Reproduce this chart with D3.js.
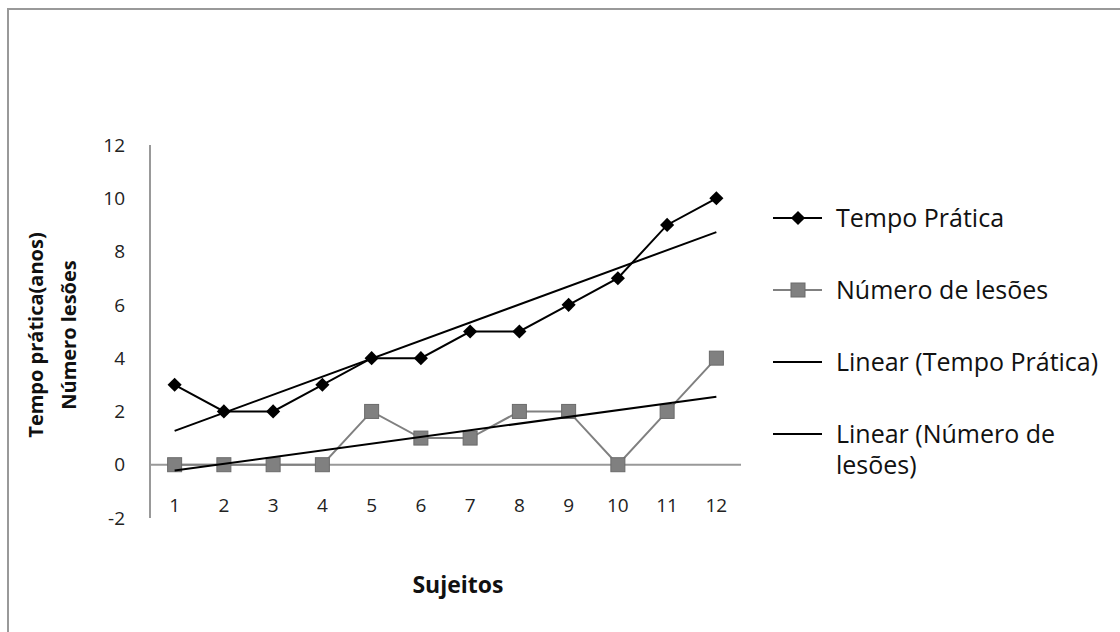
<!DOCTYPE html>
<html><head><meta charset="utf-8">
<script src="https://cdn.jsdelivr.net/npm/d3@7"></script>
<style>body{margin:0;background:#fff}svg{display:block}text{font-family:"Open Sans",Lato,sans-serif}</style>
</head><body>
<script>
const subjects = [1,2,3,4,5,6,7,8,9,10,11,12];
const tempoPratica = [3,2,2,3,4,4,5,5,6,7,9,10];
const numeroLesoes = [0,0,0,0,2,1,1,2,2,0,2,4];
const yTicks = [-2,0,2,4,6,8,10,12];
const legendLabels = ["Tempo Prática","Número de lesões","Linear (Tempo Prática)",["Linear (Número de","lesões)"]];

const W=1120,H=632;
const svg=d3.select("body").append("svg").attr("width",W).attr("height",H);
svg.append("rect").attr("x",8).attr("y",9).attr("width",W+10).attr("height",H+10)
  .attr("fill","#fff").attr("stroke","#999").attr("stroke-width",2);

const x=d3.scaleBand().domain(subjects).range([150,741]);
const xc=d=>x(d)+x.bandwidth()/2;
const y=d3.scaleLinear().domain([-2,12]).range([518,145]);

svg.append("line").attr("x1",150).attr("x2",150).attr("y1",y(12)).attr("y2",y(-2)).attr("stroke","#999").attr("stroke-width",2);
svg.append("line").attr("x1",150).attr("x2",741).attr("y1",y(0)).attr("y2",y(0)).attr("stroke","#999").attr("stroke-width",2);

svg.selectAll(".yt").data(yTicks).enter().append("text")
  .attr("x",125).attr("y",d=>y(d)).attr("dy","0.35em").attr("text-anchor","end")
  .attr("font-size",19).attr("fill","#222").text(d=>d);
svg.selectAll(".xt").data(subjects).enter().append("text")
  .attr("x",d=>xc(d)).attr("y",505).attr("dy","0.35em").attr("text-anchor","middle")
  .attr("font-size",19).attr("fill","#222").text(d=>d);

function fit(ys){
  const xs=subjects;
  const mx=d3.mean(xs), my=d3.mean(ys);
  const b=d3.sum(xs,(v,i)=>(v-mx)*(ys[i]-my))/d3.sum(xs,v=>(v-mx)**2);
  return v=>my+b*(v-mx);
}
const line=d3.line().x(d=>xc(d[0])).y(d=>y(d[1]));
const f1=fit(tempoPratica), f2=fit(numeroLesoes);

svg.append("path").datum(subjects.map((s,i)=>[s,numeroLesoes[i]])).attr("d",line)
  .attr("fill","none").attr("stroke","#808080").attr("stroke-width",2);
svg.selectAll(".sq").data(subjects.map((s,i)=>[s,numeroLesoes[i]])).enter().append("rect")
  .attr("x",d=>xc(d[0])-7).attr("y",d=>y(d[1])-7).attr("width",14).attr("height",14)
  .attr("fill","#808080").attr("stroke","#6a6a6a").attr("stroke-width",1);

svg.append("path").datum(subjects.map((s,i)=>[s,tempoPratica[i]])).attr("d",line)
  .attr("fill","none").attr("stroke","#000").attr("stroke-width",2);
svg.selectAll(".dm").data(subjects.map((s,i)=>[s,tempoPratica[i]])).enter().append("path")
  .attr("transform",d=>`translate(${xc(d[0])},${y(d[1])}) rotate(45)`)
  .attr("d","M-5,-5H5V5H-5Z").attr("fill","#000");

[f1,f2].forEach(f=>{
  svg.append("path").datum([[1,f(1)],[12,f(12)]]).attr("d",line)
    .attr("fill","none").attr("stroke","#000").attr("stroke-width",2);
});

const yt=svg.append("text").attr("transform","translate(0,335) rotate(-90)")
  .attr("text-anchor","middle").attr("font-weight","bold").attr("font-size",20).attr("fill","#111");
yt.append("tspan").attr("x",0).attr("y",43).text("Tempo prática(anos)");
yt.append("tspan").attr("x",0).attr("y",76).text("Número lesões");
svg.append("text").attr("x",458).attr("y",593).attr("text-anchor","middle")
  .attr("font-weight","bold").attr("font-size",23).attr("fill","#111").text("Sujeitos");

const ly=[218,290,362,434];
const lg=svg.append("g");
legendLabels.forEach((lab,i)=>{
  const yy=ly[i];
  const col=i===1?"#808080":"#000";
  lg.append("line").attr("x1",773).attr("x2",822).attr("y1",yy).attr("y2",yy).attr("stroke",col).attr("stroke-width",2);
  if(i===0) lg.append("path").attr("transform",`translate(798,${yy}) rotate(45)`).attr("d","M-5,-5H5V5H-5Z").attr("fill","#000");
  if(i===1) lg.append("rect").attr("x",791).attr("y",yy-7).attr("width",14).attr("height",14).attr("fill","#808080").attr("stroke","#6a6a6a");
  const t=lg.append("text").attr("x",836).attr("y",yy).attr("dy","0.35em").attr("font-size",25).attr("fill","#111");
  if(Array.isArray(lab)){
    t.append("tspan").attr("x",836).text(lab[0]);
    t.append("tspan").attr("x",836).attr("dy",31).text(lab[1]);
  } else t.text(lab);
});
</script>
</body></html>
